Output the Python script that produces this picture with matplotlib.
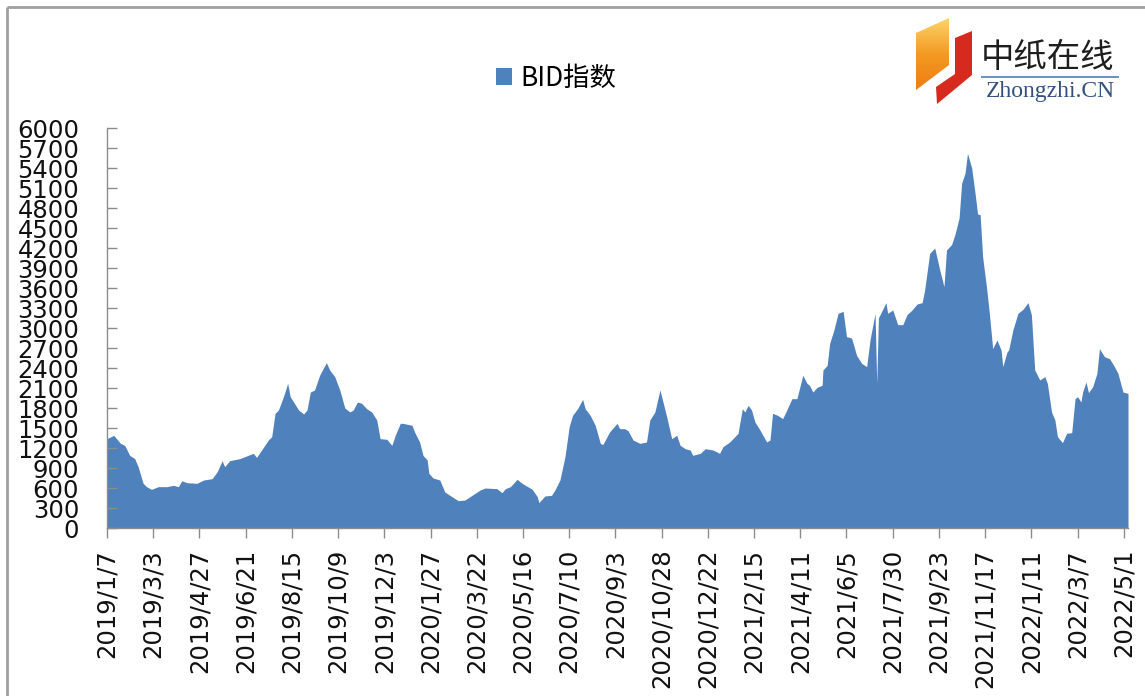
import numpy as np
import pandas as pd
import matplotlib
matplotlib.use('Agg')
import matplotlib.pyplot as plt
from matplotlib.patches import Polygon

# BID index
dates = ['2019-01-07', '2019-01-15', '2019-01-23', '2019-01-28', '2019-02-03', '2019-02-09', '2019-02-13',
         '2019-02-19', '2019-02-23', '2019-03-01', '2019-03-05', '2019-03-09', '2019-03-19', '2019-03-27',
         '2019-04-02', '2019-04-06', '2019-04-12', '2019-04-24', '2019-05-02', '2019-05-12', '2019-05-18',
         '2019-05-24', '2019-05-27', '2019-06-02', '2019-06-14', '2019-06-24', '2019-06-30', '2019-07-04',
         '2019-07-10', '2019-07-18', '2019-07-22', '2019-07-26', '2019-07-30', '2019-08-05', '2019-08-10',
         '2019-08-13', '2019-08-17', '2019-08-23', '2019-08-29', '2019-09-02', '2019-09-06', '2019-09-11',
         '2019-09-17', '2019-09-25', '2019-09-29', '2019-10-05', '2019-10-11', '2019-10-17', '2019-10-23',
         '2019-10-27', '2019-11-01', '2019-11-06', '2019-11-12', '2019-11-18', '2019-11-24', '2019-11-28',
         '2019-12-06', '2019-12-12', '2019-12-16', '2019-12-22', '2019-12-25', '2020-01-05', '2020-01-08',
         '2020-01-14', '2020-01-18', '2020-01-23', '2020-01-25', '2020-01-30', '2020-02-07', '2020-02-13',
         '2020-02-19', '2020-02-29', '2020-03-08', '2020-03-14', '2020-03-26', '2020-04-01', '2020-04-15',
         '2020-04-21', '2020-04-25', '2020-05-01', '2020-05-09', '2020-05-15', '2020-05-27', '2020-06-02',
         '2020-06-04', '2020-06-11', '2020-06-19', '2020-06-23', '2020-06-29', '2020-07-05', '2020-07-10',
         '2020-07-14', '2020-07-20', '2020-07-26', '2020-07-29', '2020-08-04', '2020-08-10', '2020-08-16',
         '2020-08-19', '2020-08-27', '2020-09-05', '2020-09-08', '2020-09-14', '2020-09-18', '2020-09-24',
         '2020-10-02', '2020-10-10', '2020-10-14', '2020-10-20', '2020-10-26', '2020-10-30', '2020-11-03',
         '2020-11-09', '2020-11-15', '2020-11-19', '2020-11-25', '2020-12-01', '2020-12-04', '2020-12-13',
         '2020-12-19', '2020-12-28', '2021-01-05', '2021-01-09', '2021-01-17', '2021-01-27', '2021-02-01',
         '2021-02-04', '2021-02-08', '2021-02-12', '2021-02-16', '2021-02-22', '2021-03-02', '2021-03-06',
         '2021-03-09', '2021-03-15', '2021-03-21', '2021-03-26', '2021-04-01', '2021-04-07', '2021-04-10',
         '2021-04-14', '2021-04-19', '2021-04-22', '2021-04-26', '2021-05-01', '2021-05-07', '2021-05-08',
         '2021-05-13', '2021-05-16', '2021-05-21', '2021-05-26', '2021-06-01', '2021-06-05', '2021-06-11',
         '2021-06-17', '2021-06-23', '2021-06-29', '2021-07-03', '2021-07-09', '2021-07-11', '2021-07-13',
         '2021-07-22', '2021-07-24', '2021-07-30', '2021-08-05', '2021-08-11', '2021-08-16', '2021-08-22',
         '2021-08-28', '2021-09-03', '2021-09-06', '2021-09-12', '2021-09-18', '2021-09-24', '2021-09-29',
         '2021-10-02', '2021-10-08', '2021-10-12', '2021-10-17', '2021-10-20', '2021-10-24', '2021-10-27',
         '2021-11-01', '2021-11-05', '2021-11-08', '2021-11-11', '2021-11-14', '2021-11-19', '2021-11-22',
         '2021-11-26', '2021-12-01', '2021-12-06', '2021-12-08', '2021-12-13', '2021-12-15', '2021-12-20',
         '2021-12-26', '2022-01-01', '2022-01-07', '2022-01-11', '2022-01-15', '2022-01-21', '2022-01-27',
         '2022-01-30', '2022-02-04', '2022-02-08', '2022-02-11', '2022-02-17', '2022-02-22', '2022-02-28',
         '2022-03-04', '2022-03-07', '2022-03-11', '2022-03-13', '2022-03-17', '2022-03-20', '2022-03-25',
         '2022-03-30', '2022-04-02', '2022-04-08', '2022-04-14', '2022-04-19', '2022-04-24', '2022-04-30',
         '2022-05-06']

bid = [1340, 1390, 1270, 1240, 1090, 1040, 920,
       670, 620, 580, 600, 620, 620, 640,
       620, 710, 680, 670, 720, 740, 840,
       1010, 920, 1010, 1040, 1090, 1120, 1060,
       1170, 1320, 1370, 1720, 1770, 1970, 2170,
       1970, 1890, 1770, 1710, 1770, 2040, 2070,
       2290, 2480, 2370, 2270, 2070, 1800, 1740,
       1770, 1890, 1870, 1790, 1740, 1620, 1340,
       1330, 1240, 1390, 1570, 1570, 1540, 1440,
       1290, 1090, 1020, 820, 750, 720, 540,
       490, 410, 420, 470, 570, 600, 590,
       530, 590, 620, 730, 670, 580, 470,
       380, 480, 490, 570, 720, 1070, 1520,
       1690, 1790, 1930, 1790, 1690, 1540, 1270,
       1250, 1440, 1570, 1490, 1490, 1460, 1320,
       1270, 1290, 1620, 1740, 2070, 1870, 1670,
       1340, 1390, 1240, 1190, 1170, 1090, 1120,
       1190, 1170, 1120, 1220, 1290, 1420, 1790,
       1740, 1840, 1770, 1590, 1470, 1290, 1320,
       1720, 1690, 1640, 1770, 1940, 1940, 2090,
       2290, 2170, 2140, 2040, 2110, 2140, 2370,
       2440, 2770, 2970, 3220, 3250, 2870, 2850,
       2590, 2470, 2420, 2820, 3220, 2170, 3150,
       3380, 3220, 3270, 3050, 3050, 3200, 3270,
       3360, 3380, 3570, 4120, 4200, 3870, 3620,
       4170, 4250, 4400, 4650, 5170, 5320, 5620,
       5400, 5020, 4710, 4700, 4070, 3570, 3220,
       2690, 2820, 2670, 2420, 2640, 2670, 2970,
       3220, 3280, 3380, 3200, 2370, 2220, 2270,
       2170, 1740, 1620, 1370, 1280, 1420, 1430,
       1940, 1970, 1890, 2040, 2190, 2030, 2120,
       2320, 2690, 2570, 2540, 2440, 2320, 2040,
       2020]

tick_dates = pd.date_range('2019-01-07', '2022-05-01', freq='55D')
tick_labels = ['%d/%d/%d' % (d.year, d.month, d.day) for d in tick_dates]
y_ticks = np.arange(0, 6001, 300)

W, H = 1145, 696
fig = plt.figure(figsize=[W / 100, H / 100], dpi=100)
ax = fig.add_axes([107 / W, 1 - 528 / H, (1128 - 107) / W, 400 / H])

ax.fill_between(pd.to_datetime(dates), bid, 0, color='#4f81bd', lw=0, label='BID指数')

ax.set_xlim(pd.Timestamp('2019-01-07'), pd.Timestamp('2022-05-06'))
ax.set_ylim(0, 6000)
ax.set_yticks(y_ticks)
ax.set_yticklabels([str(v) for v in y_ticks])
ax.set_xticks(tick_dates)
ax.set_xticklabels(tick_labels, rotation=90)

ax.tick_params(axis='y', direction='in', length=7, width=1, color='#8c8c8c', pad=20,
               labelsize=17.5, labelcolor='#111111')
ax.tick_params(axis='x', direction='out', length=7, width=1, color='#8c8c8c', pad=8,
               labelsize=17.5, labelcolor='#111111')
for s in ['top', 'right']:
    ax.spines[s].set_visible(False)
for s in ['left', 'bottom']:
    ax.spines[s].set_color('#8c8c8c')
    ax.spines[s].set_linewidth(1)

ax.legend(loc='center', bbox_to_anchor=(556 / W, 1 - 78 / H), bbox_transform=fig.transFigure,
          frameon=False, handlelength=0.6, handleheight=0.6, handletextpad=0.3,
          prop={'family': ['Noto Sans CJK SC', 'DejaVu Sans'], 'size': 19})

# overlay in pixel coordinates for the frame and the logo
ov = fig.add_axes([0, 0, 1, 1])
ov.set_xlim(0, W)
ov.set_ylim(H, 0)
ov.axis('off')
ov.patch.set_alpha(0)

ov.plot([7, 7], [H, 7], color='#a0a0a0', lw=2, solid_capstyle='butt')
ov.plot([7, W], [7, 7], color='#a0a0a0', lw=2, solid_capstyle='butt')

orange = Polygon([(916, 33), (949, 18), (949, 65), (916, 90)], closed=True, facecolor='none', edgecolor='none')
ov.add_patch(orange)
grad = np.linspace(0, 1, 100).reshape(-1, 1)
img = ov.imshow(grad, extent=[916, 949, 90, 18], cmap=matplotlib.colors.LinearSegmentedColormap.from_list(
    'og', ['#fbd46a', '#f39a22', '#ee7d12']), aspect='auto', zorder=2)
img.set_clip_path(orange)

red = Polygon([(955, 38), (972, 31), (972, 75), (937, 104), (936, 87), (955, 74)], closed=True,
              facecolor='#d62a1e', edgecolor='none', zorder=2)
ov.add_patch(red)
ov.set_xlim(0, W)
ov.set_ylim(H, 0)

ov.text(1047, 57, '中纸在线', ha='center', va='center', fontsize=24, color='#1e1e1e',
        family=['Noto Sans CJK SC', 'DejaVu Sans'])
ov.plot([982, 1118], [77, 77], color='#6f93c4', lw=1.5)
ov.text(1050, 91, 'Zhongzhi.CN', ha='center', va='center', fontsize=17, color='#34507e',
        family='Liberation Serif')

plt.savefig('out.png', dpi=100)
